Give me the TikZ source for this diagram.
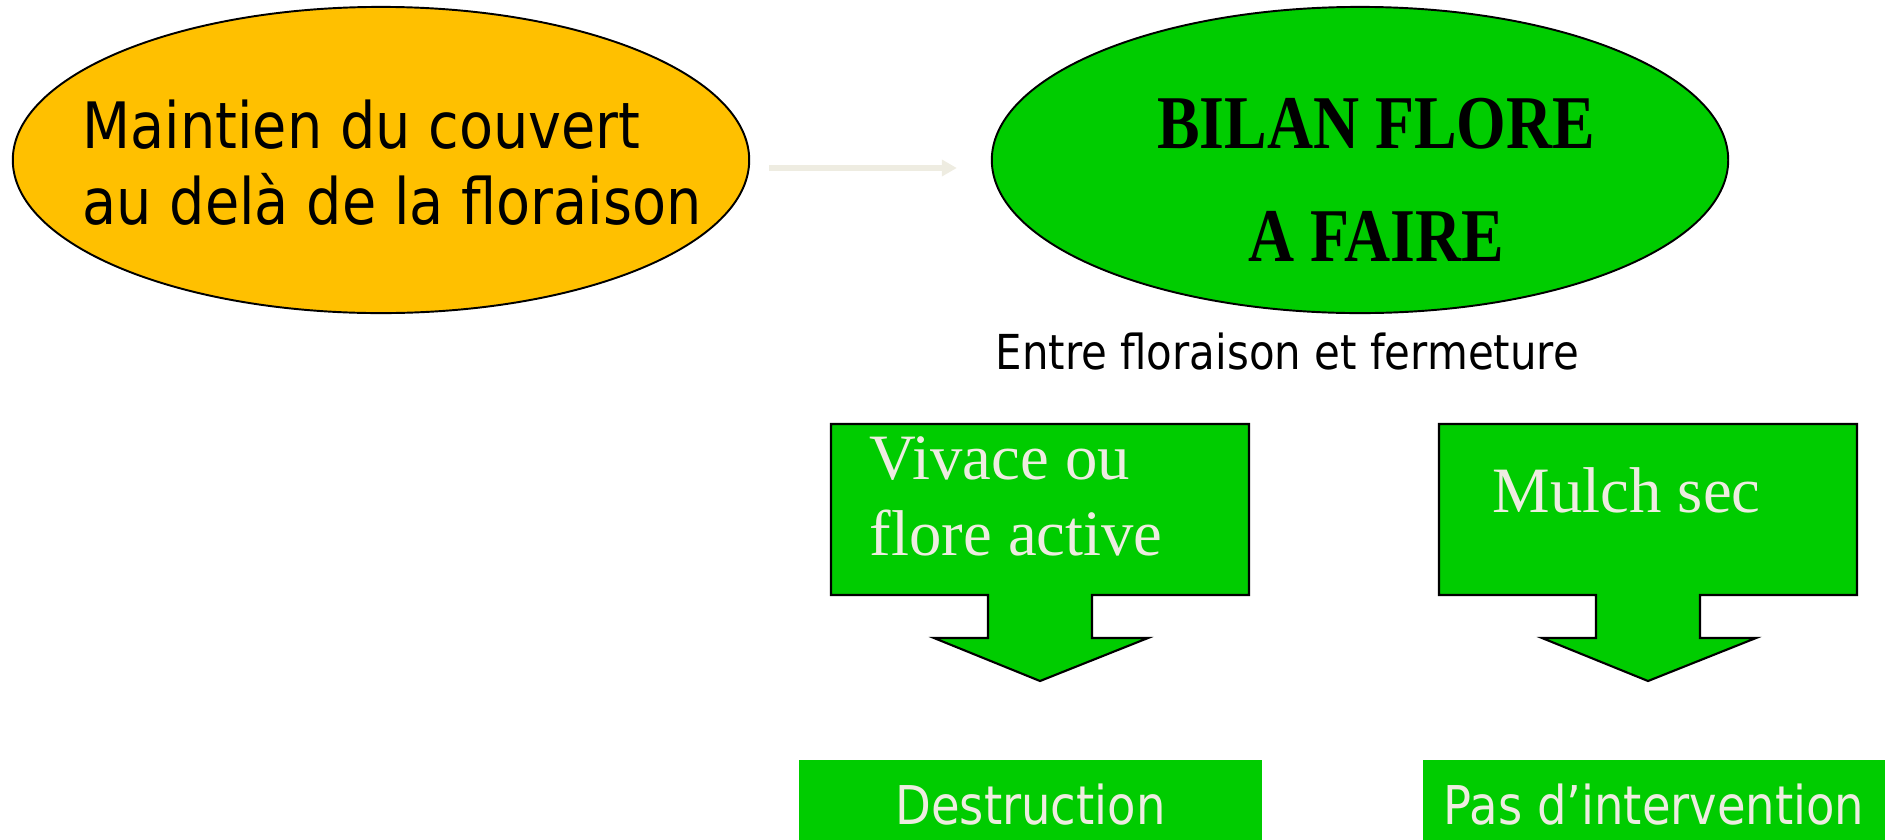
\documentclass[tikz,border=0pt]{standalone}
\usepackage{fontspec}
\usetikzlibrary{shapes.geometric,arrows.meta,calc}
\newfontfamily\tah[FakeStretch=0.87]{DejaVu Sans}
\newfontfamily\tnr{Liberation Serif}
\newfontfamily\tnrc[FakeStretch=0.84]{Liberation Serif}
\definecolor{vert}{HTML}{00CC00}
\definecolor{jaune}{HTML}{FFC000}
\definecolor{creme}{HTML}{EEECE1}
\begin{document}
\begin{tikzpicture}[x=0.01cm,y=-0.01cm,
  bulle/.style={draw,ellipse,line width=0.55pt,inner sep=0,minimum width=7.36cm,minimum height=3.06cm},
  fleche/.style={draw,fill=vert,line width=0.6pt},
  boite/.style={fill=vert,inner sep=0,minimum height=0.9cm,text=creme,font=\tah\fontsize{15.2}{17}\selectfont},
  callt/.style={text=creme,inner sep=0,align=left,font=\tnr\fontsize{18.4}{21.6}\selectfont}]
\clip (0,0) rectangle (1885,839);

\node[bulle,fill=jaune] (maintien) at (381,160) {};
\node[bulle,fill=vert] (bilan) at (1360,160) {};
\node[anchor=west,align=left,inner sep=0,font=\tah\fontsize{18.2}{21.6}\selectfont] (maintientxt) at (82,163) {Maintien du couvert\\au delà de la floraison};
\node[align=center,inner sep=0,font=\tnrc\bfseries\fontsize{21.6}{32.2}\selectfont] (bilantxt) at (1376,180) {BILAN FLORE\\A FAIRE};

\path[draw,creme,line width=1.5pt,-{Triangle[length=0.15cm,width=0.16cm]}] ($(maintien.east)+(19,8)$) -- ($(bilan.west)+(-34,8)$);

\node[anchor=base west,inner sep=0,font=\tah\fontsize{13.7}{16}\selectfont] (entre) at (995,369) {Entre floraison et fermeture};

\foreach \dx in {0,608}
  \draw[fleche,shift={(\dx,0)}] (831,424) -- (1249,424) -- (1249,595) -- (1092,595) -- (1092,638) -- (1148,638) -- (1040,681) -- (934,638) -- (988,638) -- (988,595) -- (831,595) -- cycle;

\node[callt,anchor=west] (vivace) at (869,496) {Vivace ou\\flore active};
\node[callt,anchor=base west] (mulch) at (1492,512) {Mulch sec};

\node[boite,minimum width=4.63cm] (destruction) at (1030.5,805) {Destruction};
\node[boite,minimum width=4.62cm] (pasinterv) at (1654,805) {Pas d’intervention};
\end{tikzpicture}
\end{document}
